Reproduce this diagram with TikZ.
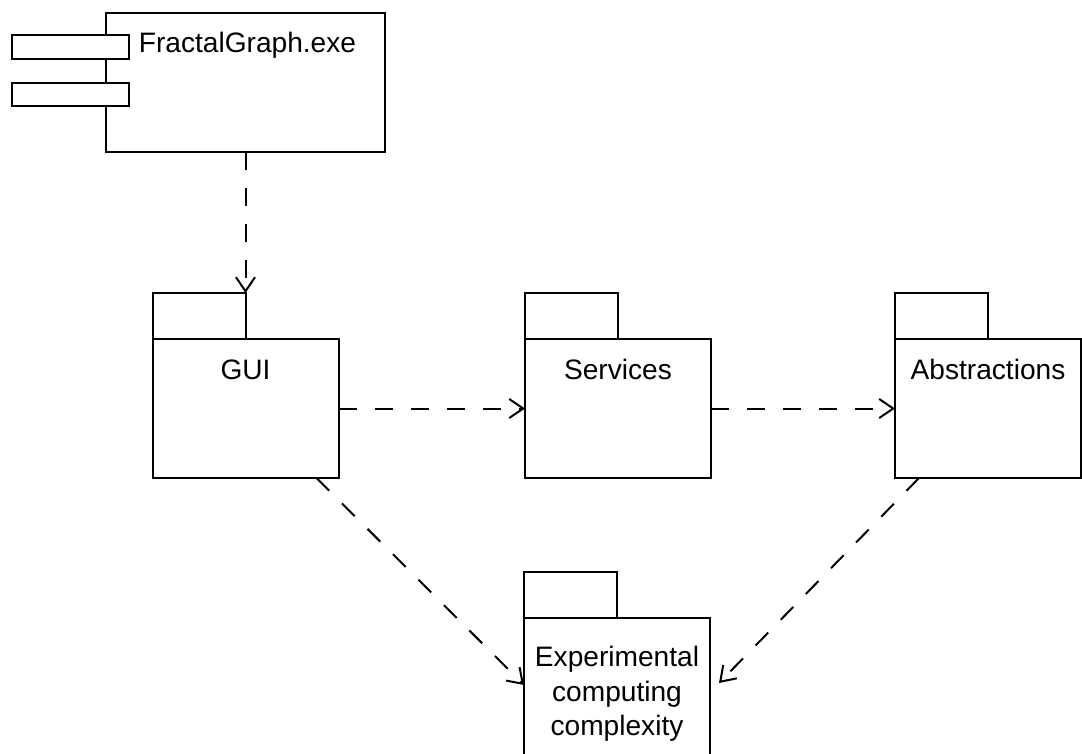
\documentclass[tikz,border=0pt]{standalone}
\usepackage{fontspec}
\setmainfont{Liberation Sans}
\usepackage{tikz}
\usetikzlibrary{arrows.meta,positioning}

\begin{document}
\begin{tikzpicture}[font=\fontsize{16pt}{19.5pt}\selectfont, >={Straight Barb[length=0.28cm,width=0.38cm]},
  box/.style={draw, line width=0.04cm, fill=white, inner sep=0pt, outer sep=0pt},
  port/.style={box, minimum width=2.34cm, minimum height=0.47cm},
  pkg/.style={box, minimum width=3.72cm, minimum height=2.78cm},
  tab/.style={box, minimum width=1.86cm, minimum height=0.92cm, anchor=south west},
  pkgname/.style={align=center, inner sep=0pt},
  dep/.style={->, line width=0.04cm, dash pattern=on 0.36cm off 0.36cm}]
  \useasboundingbox (0,0) rectangle (21.64,-15.06);
  % component
  \node[box, minimum width=5.58cm, minimum height=2.78cm] (exe) at (4.91,-1.65) {};
  \node[port] (port1) at (1.41,-0.94) {};
  \node[port] (port2) at (1.41,-1.89) {};
  \node[pkgname, anchor=base west] (exename) at (2.77,-1.05) {FractalGraph.exe};
  % packages
  \node[pkg] (gui)   at (4.91,-8.17)  {};
  \node[pkg] (serv)  at (12.36,-8.17) {};
  \node[pkg] (abstr) at (19.76,-8.17) {};
  \node[pkg] (expt)  at (12.34,-13.75) {};
  \node[tab] (guitab)   at (gui.north west)   {};
  \node[tab] (servtab)  at (serv.north west)  {};
  \node[tab] (abstrtab) at (abstr.north west) {};
  \node[tab] (expttab)  at (expt.north west)  {};
  \node[pkgname, anchor=base] (guiname)   at ([yshift=-0.8cm]gui.north)   {GUI};
  \node[pkgname, anchor=base] (servname)  at ([yshift=-0.8cm]serv.north)  {Services};
  \node[pkgname, anchor=base] (abstrname) at ([yshift=-0.8cm]abstr.north) {Abstractions};
  \node[pkgname, below=0.56cm of expt.north] (exptname) {Experimental\\computing\\complexity};
  % dependencies
  \draw[dep] (exe.south) -- (exe.south |- guitab.north);
  \draw[dep] (gui.east) -- (serv.west);
  \draw[dep] (serv.east) -- (abstr.west);
  \draw[dep] ([xshift=-0.44cm]gui.south east) -- ([yshift=0.05cm]expt.west);
  \draw[dep] ([xshift=0.48cm]abstr.south west) -- ([xshift=0.18cm,yshift=0.09cm]expt.east);
\end{tikzpicture}
\end{document}
